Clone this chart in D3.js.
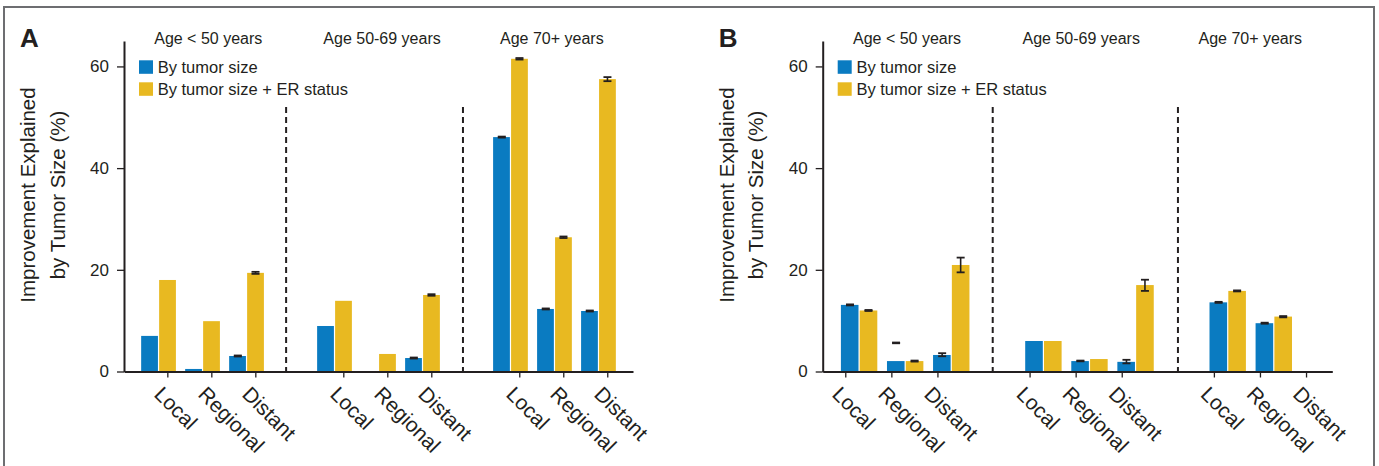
<!DOCTYPE html>
<html>
<head>
<meta charset="utf-8">
<script src="https://cdn.jsdelivr.net/npm/d3@7/dist/d3.min.js"></script>
<style>
  body { margin: 0; background: #fff; }
  svg { display: block; font-family: 'Liberation Sans', Arial, sans-serif; }
  .axis path, .axis line { stroke: #231f20; }
  .axis text { fill: #231f20; }
</style>
</head>
<body>
<div id="chart"></div>
<script>
// data
const groups = ['Age < 50 years', 'Age 50-69 years', 'Age 70+ years']
const sites = ['Local', 'Regional', 'Distant']
const seriesNames = ['By tumor size', 'By tumor size + ER status']
const yTicks = [0, 20, 40, 60]

// panel A, one value per group x site
const aSize = [7.0, 0.5, 3.05, 8.95, 0, 2.65, 46.1, 12.3, 11.9]
const aSizeEr = [18.0, 9.9, 19.4, 13.9, 3.45, 15.05, 61.5, 26.4, 57.5]
const aSizeCI = [null, null, [2.95, 3.15], null, null, [2.55, 2.75], [46.0, 46.2], [12.2, 12.4], [11.8, 12.0]]
const aSizeErCI = [null, null, [19.2, 19.6], null, null, [14.9, 15.2], [61.35, 61.65], [26.25, 26.55], [57.1, 57.9]]

// panel B
const bSize = [13.1, 2.05, 3.25, 6.0, 2.05, 1.9, 13.6, 9.5, 0]
const bSizeEr = [12.0, 2.05, 20.95, 6.0, 2.45, 17.0, 15.85, 10.8, 0]
const bSizeCI = [[13.0, 13.2], [5.55, 5.7], [3.0, 3.6], null, [2.0, 2.15], [1.6, 2.3], [13.5, 13.7], [9.4, 9.6], null]
const bSizeErCI = [[11.9, 12.1], [1.95, 2.15], [19.5, 22.4], null, null, [15.85, 18.05], [15.75, 15.95], [10.65, 10.9], null]

const colors = ['#0a7bc1', '#e8b921']
const ink = '#231f20'

const width = 1379
const height = 466

const svg = d3
  .select('#chart')
  .append('svg')
  .attr('width', width)
  .attr('height', height)

// outer frame
svg
  .append('rect')
  .attr('x', 4)
  .attr('y', 7)
  .attr('width', 1370)
  .attr('height', 480)
  .attr('fill', 'none')
  .attr('stroke', '#6d6e71')
  .attr('stroke-width', 2)

const yPositionScale = d3.scaleLinear()
  .domain([0, 65])
  .range([371.5, 41])

const panels = [
  {
    letter: 'A',
    left: 124,
    right: 633,
    domain: [-0.785, 10.785],
    tickShift: 0.2,
    titleSlots: [1.13, 5.08, 8.94],
    series: [aSize, aSizeEr],
    cis: [aSizeCI, aSizeErCI]
  },
  {
    letter: 'B',
    left: 822.7,
    right: 1332.3,
    domain: [-0.79, 10.27],
    tickShift: -0.3,
    titleSlots: [1.04, 4.82, 8.49],
    series: [bSize, bSizeEr],
    cis: [bSizeCI, bSizeErCI]
  }
]

panels.forEach(p => drawPanel(p))

function drawPanel (p) {
  const xPositionScale = d3.scaleLinear()
    .domain(p.domain)
    .range([p.left, p.right])
  const slotWidth = xPositionScale(1) - xPositionScale(0)
  const half = slotWidth * 0.395

  const g = svg.append('g')

  // rows: one per group/site/series
  const rows = []
  groups.forEach((grp, gi) => {
    sites.forEach((site, si) => {
      const i = gi * 3 + si
      seriesNames.forEach((s, k) => {
        rows.push({
          slot: gi * 4 + si,
          series: k,
          value: p.series[k][i],
          ci: p.cis[k][i]
        })
      })
    })
  })

  // dashed separators between age groups
  g.selectAll('.divider')
    .data([2.9, 6.92])
    .enter()
    .append('line')
    .attr('class', 'divider')
    .attr('x1', d => xPositionScale(d))
    .attr('x2', d => xPositionScale(d))
    .attr('y1', yPositionScale(52))
    .attr('y2', yPositionScale(0))
    .attr('stroke', ink)
    .attr('stroke-width', 2)
    .attr('stroke-dasharray', '6,4')

  // bars
  g.selectAll('.bar')
    .data(rows.filter(d => d.value > 0))
    .enter()
    .append('rect')
    .attr('class', 'bar')
    .attr('x', d => {
      const c = xPositionScale(d.slot)
      return d.series === 0 ? c - half : c + 0.6
    })
    .attr('width', half - 0.6)
    .attr('y', d => yPositionScale(d.value))
    .attr('height', d => yPositionScale(0) - yPositionScale(d.value))
    .attr('fill', d => colors[d.series])

  // error bars
  const errs = rows.filter(d => d.ci)
  const cx = d => {
    const c = xPositionScale(d.slot)
    return d.series === 0 ? c - half / 2 : c + half / 2 + 0.3
  }
  g.selectAll('.err')
    .data(errs)
    .enter()
    .append('line')
    .attr('class', 'err')
    .attr('x1', cx)
    .attr('x2', cx)
    .attr('y1', d => yPositionScale(d.ci[0]))
    .attr('y2', d => yPositionScale(d.ci[1]))
    .attr('stroke', ink)
    .attr('stroke-width', 1.6)
  errs.forEach(d => {
    d.ci.forEach(v => {
      g.append('line')
        .attr('x1', cx(d) - 4)
        .attr('x2', cx(d) + 4)
        .attr('y1', yPositionScale(v))
        .attr('y2', yPositionScale(v))
        .attr('stroke', ink)
        .attr('stroke-width', 1.8)
    })
  })

  // axes
  const yAxis = d3.axisLeft(yPositionScale)
    .tickValues(yTicks)
    .tickSize(7)
    .tickSizeOuter(0)
    .tickPadding(8)
  g.append('g')
    .attr('class', 'axis y-axis')
    .attr('transform', 'translate(' + p.left + ',0)')
    .call(yAxis)
  g.selectAll('.y-axis path').attr('stroke-width', 2)
  g.selectAll('.y-axis line').attr('stroke-width', 1.3)
  g.selectAll('.y-axis text')
    .attr('font-size', 17)
    .attr('font-family', 'Liberation Sans, Arial, sans-serif')

  const tickSlots = []
  groups.forEach((grp, gi) => {
    sites.forEach((site, si) => tickSlots.push(gi * 4 + si + p.tickShift))
  })
  const xAxis = d3.axisBottom(xPositionScale)
    .tickValues(tickSlots)
    .tickFormat((d, i) => sites[i % 3])
    .tickSize(6)
    .tickSizeOuter(0)
  g.append('g')
    .attr('class', 'axis x-axis')
    .attr('transform', 'translate(0,' + yPositionScale(0) + ')')
    .call(xAxis)
  g.selectAll('.x-axis path').attr('stroke-width', 2.2)
  g.selectAll('.x-axis line').attr('stroke-width', 1.3)
  g.selectAll('.x-axis text')
    .attr('font-size', 21)
    .attr('font-family', 'Liberation Sans, Arial, sans-serif')
    .attr('text-anchor', 'start')
    .attr('dy', null)
    .attr('x', 6.5)
    .attr('y', 27.5)
    .attr('transform', 'rotate(45)')

  // group titles
  g.selectAll('.title')
    .data(groups)
    .enter()
    .append('text')
    .attr('class', 'title')
    .attr('x', (d, i) => xPositionScale(p.titleSlots[i]))
    .attr('y', 44)
    .attr('text-anchor', 'middle')
    .attr('font-size', 16)
    .attr('fill', ink)
    .text(d => d)

  // legend
  const legend = g.selectAll('.legend')
    .data(seriesNames)
    .enter()
    .append('g')
    .attr('class', 'legend')
    .attr('transform', (d, i) => 'translate(' + (p.left + 15) + ',' + (60.3 + i * 22) + ')')
  legend.append('rect')
    .attr('width', 14)
    .attr('height', 13.5)
    .attr('fill', (d, i) => colors[i])
  legend.append('text')
    .attr('x', 18.7)
    .attr('y', 12.7)
    .attr('font-size', 16.5)
    .attr('fill', ink)
    .text(d => d)

  // y label
  const ylab = g.append('text')
    .attr('transform', 'translate(' + (p.left - 89) + ',195) rotate(-90)')
    .attr('text-anchor', 'middle')
    .attr('font-size', 20.5)
    .attr('fill', ink)
  ylab.append('tspan').attr('x', 0).attr('y', 0).text('Improvement Explained')
  ylab.append('tspan').attr('x', 0).attr('y', 29.5).text('by Tumor Size (%)')

  // panel letter
  g.append('text')
    .attr('x', p.left - 104)
    .attr('y', 47.3)
    .attr('font-size', 26)
    .attr('font-weight', 'bold')
    .attr('fill', ink)
    .text(p.letter)
}
</script>
</body>
</html>
